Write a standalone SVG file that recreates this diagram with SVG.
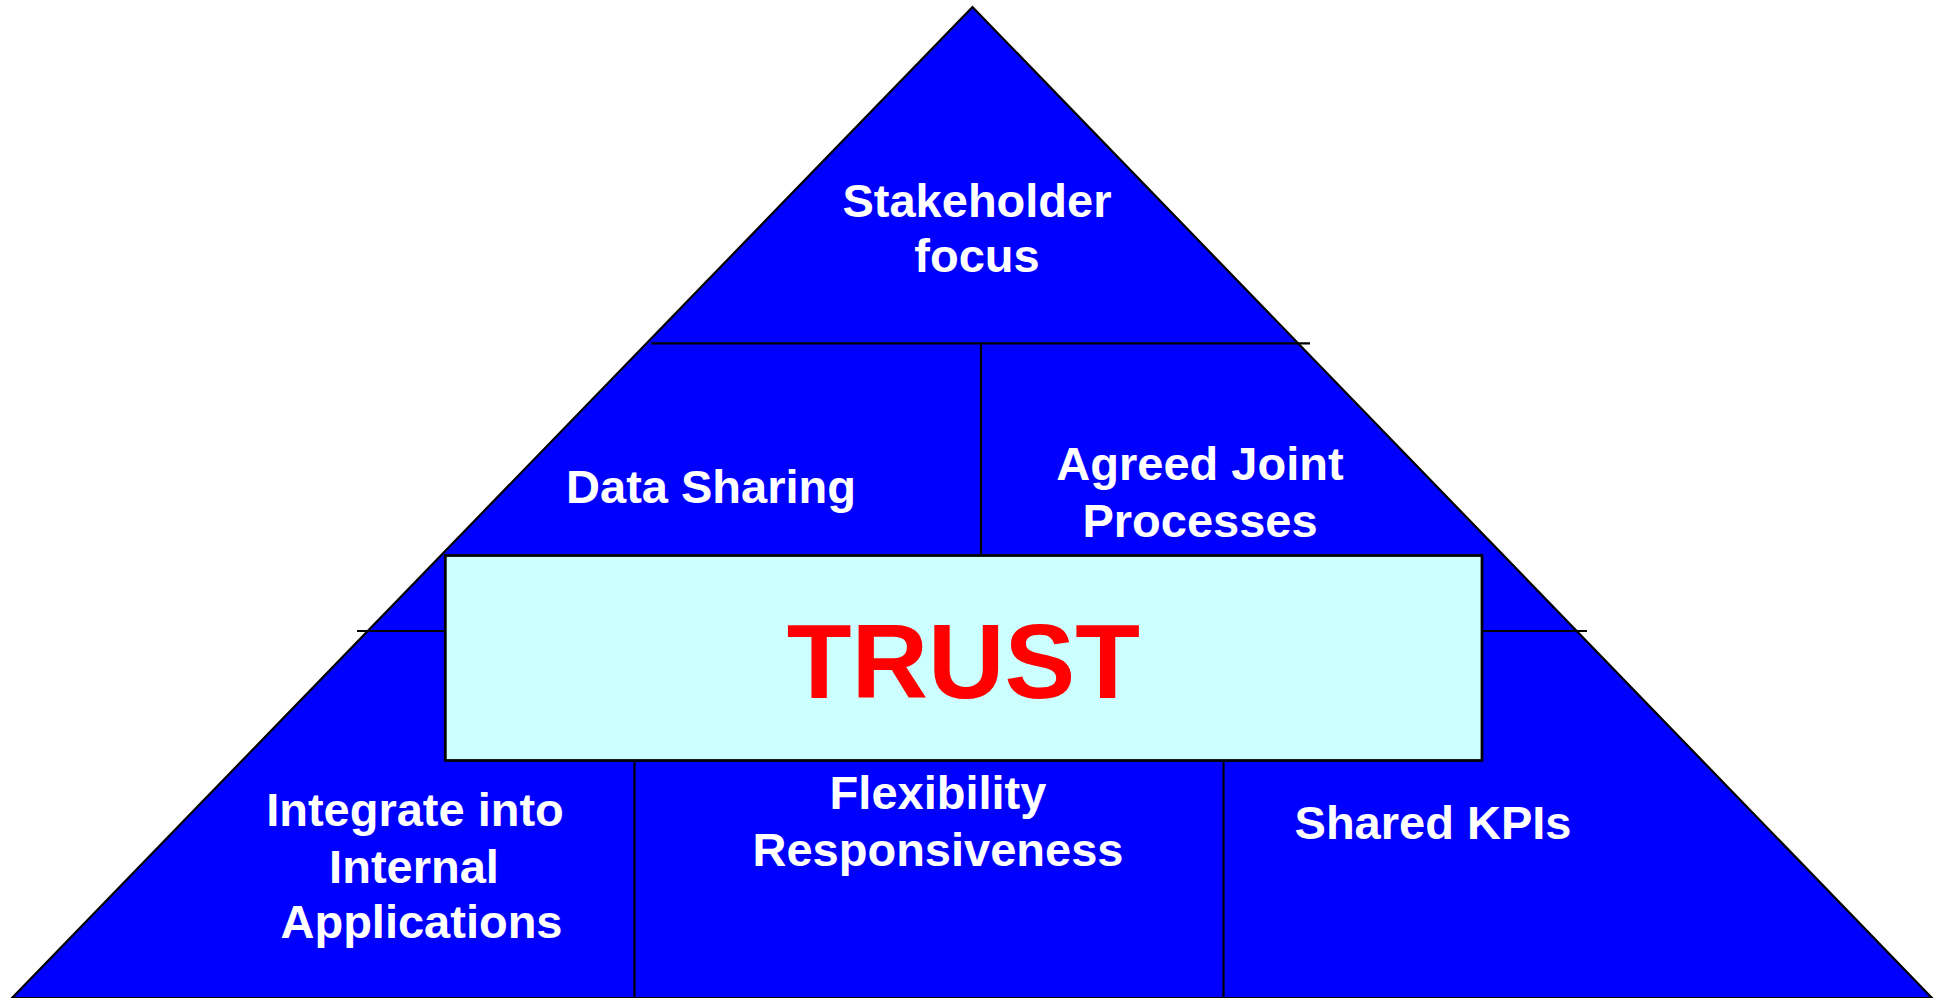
<svg xmlns="http://www.w3.org/2000/svg" width="1944" height="998" viewBox="0 0 1944 998">
<style>
.lbl{font-family:"Liberation Sans",Arial,sans-serif;font-weight:bold;font-size:47px;fill:#FFFFFF;text-anchor:middle}
.ln{stroke:#000000;stroke-width:2.2;fill:none}
.trust{font-family:"Liberation Sans",Arial,sans-serif;font-weight:bold;font-size:106px;fill:#FF0000;text-anchor:middle}
</style>
<rect x="0" y="0" width="1944" height="998" fill="#FFFFFF"/>
<g id="pyramid">
<polygon points="972.5,7 12,998 1932,998" fill="#0000FF" stroke="#000000" stroke-width="2.2" stroke-linejoin="miter"/>
</g>
<g id="connectors">
<line class="ln" x1="651" y1="343.3" x2="1310" y2="343.3"/>
<line class="ln" x1="981" y1="343.3" x2="981" y2="555"/>
<line class="ln" x1="357" y1="631" x2="1587" y2="631"/>
<line class="ln" x1="634.5" y1="761" x2="634.5" y2="998"/>
<line class="ln" x1="1223.5" y1="761" x2="1223.5" y2="998"/>
</g>
<g id="stakeholder">
<text class="lbl" x="977" y="216.7">Stakeholder</text>
<text class="lbl" x="977" y="271.7">focus</text>
</g>
<g id="data-sharing">
<text class="lbl" x="711" y="502.7">Data Sharing</text>
</g>
<g id="agreed-joint">
<text class="lbl" x="1200" y="480">Agreed Joint</text>
<text class="lbl" x="1200" y="537.3">Processes</text>
</g>
<g id="trust">
<rect x="445.3" y="555.5" width="1036.7" height="205" fill="#CCFFFF" stroke="#000000" stroke-width="2.8"/>
<text class="trust" x="963.3" y="698.3">TRUST</text>
</g>
<g id="integrate">
<text class="lbl" x="415" y="826">Integrate into</text>
<text class="lbl" x="414" y="883.3">Internal</text>
<text class="lbl" x="421.5" y="938.3">Applications</text>
</g>
<g id="flexibility">
<text class="lbl" x="938" y="809">Flexibility</text>
<text class="lbl" x="938" y="866">Responsiveness</text>
</g>
<g id="shared-kpis">
<text class="lbl" x="1433" y="839.3">Shared KPIs</text>
</g>
</svg>
